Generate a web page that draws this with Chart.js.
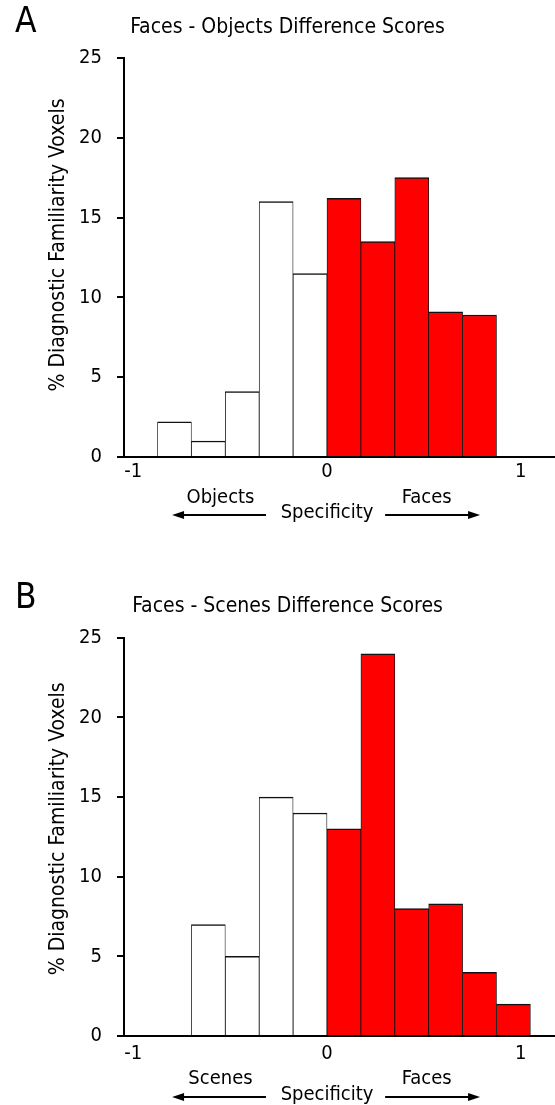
<!DOCTYPE html>
<html>
<head>
<meta charset="utf-8">
<script src="https://cdn.jsdelivr.net/npm/chart.js@4.4.1/dist/chart.umd.min.js"></script>
<style>
  body { margin: 0; background: #fff; }
  .panel { position: relative; width: 555px; }
</style>
</head>
<body>
<div class="panel" style="height:545px"><canvas id="chartA"></canvas></div>
<div class="panel" style="height:560px"><canvas id="chartB"></canvas></div>
<script>
// bin centres (specificity) and % of voxels per bin
var binsA = [-0.7875, -0.6125, -0.4375, -0.2625, -0.0875, 0.0875, 0.2625, 0.4375, 0.6125, 0.7875];
var pctA = [2.2, 1.0, 4.1, 16.0, 11.5, 16.2, 13.5, 17.5, 9.1, 8.9];
var binsB = [-0.6125, -0.4375, -0.2625, -0.0875, 0.0875, 0.2625, 0.4375, 0.6125, 0.7875, 0.9625];
var pctB = [7, 5, 15, 14, 13, 24, 8, 8.3, 4, 2];
var xTicks = [-1, 0, 1];
var yTicks = [0, 5, 10, 15, 20, 25];

var FONT = "'DejaVu Sans Condensed', 'DejaVu Sans', sans-serif";
Chart.defaults.font.family = FONT;
Chart.defaults.color = '#000';

// panel letter, rotated y label, and the Objects/Faces arrows under the x axis
var panelText = {
  id: 'panelText',
  afterDraw: function(chart, args, o) {
    var ctx = chart.ctx, x = chart.scales.x, area = chart.chartArea;
    ctx.save();
    ctx.fillStyle = '#000';
    ctx.strokeStyle = '#000';

    ctx.font = '35px ' + FONT;
    ctx.textAlign = 'left';
    ctx.textBaseline = 'alphabetic';
    ctx.fillText(o.letter, 15, o.letterY);

    ctx.font = '21px ' + FONT;
    ctx.textAlign = 'center';
    ctx.textBaseline = 'middle';
    ctx.save();
    ctx.translate(59, area.top + o.yTitleOffset);
    ctx.rotate(-Math.PI / 2);
    ctx.fillText('% Diagnostic Familiarity Voxels', 0, 0);
    ctx.restore();

    var base = area.bottom;
    ctx.font = '20px ' + FONT;
    ctx.fillText(o.leftLabel, x.getPixelForValue(-0.55), base + o.labelDy);
    ctx.fillText('Faces', x.getPixelForValue(0.515), base + o.labelDy);
    ctx.fillText('Specificity', x.getPixelForValue(0), base + o.specDy);

    var ay = base + o.arrowDy;
    function arrow(from, to) {
      var x1 = x.getPixelForValue(from), x2 = x.getPixelForValue(to);
      var dir = x2 > x1 ? 1 : -1;
      ctx.lineWidth = 2;
      ctx.beginPath();
      ctx.moveTo(x1, ay);
      ctx.lineTo(x2 - dir * 10, ay);
      ctx.stroke();
      ctx.beginPath();
      ctx.moveTo(x2, ay);
      ctx.lineTo(x2 - dir * 12, ay - 4);
      ctx.lineTo(x2 - dir * 12, ay + 4);
      ctx.closePath();
      ctx.fill();
    }
    arrow(-0.315, -0.80);
    arrow(0.30, 0.79);
    ctx.restore();
  }
};

function makePanel(id, bins, values, cfg) {
  return new Chart(document.getElementById(id), {
    type: 'bar',
    data: {
      datasets: [{
        data: bins.map(function(b, i) { return { x: b, y: values[i] }; }),
        backgroundColor: function(c) { return c.raw && c.raw.x > 0 ? '#ff0000' : '#ffffff'; },
        borderColor: '#111',
        borderWidth: { top: 1.5, left: 0.8, right: 0.8, bottom: 0 },
        borderSkipped: 'start',
        barPercentage: 1,
        categoryPercentage: 1
      }]
    },
    options: {
      responsive: true,
      maintainAspectRatio: false,
      animation: false,
      layout: { padding: { left: 20, right: 0, top: 0, bottom: 0 } },
      plugins: {
        legend: { display: false },
        tooltip: { enabled: false },
        title: {
          display: true,
          text: cfg.title,
          color: '#000',
          font: { size: 21, weight: 'normal' },
          padding: { top: cfg.titleTop, bottom: cfg.titleBottom }
        },
        panelText: cfg.text
      },
      scales: {
        x: {
          type: 'linear',
          offset: false,
          min: -1.048,
          max: 1.177,
          afterBuildTicks: function(s) { s.ticks = xTicks.map(function(v) { return { value: v }; }); },
          afterFit: function(s) { s.height = cfg.xHeight; },
          grid: { display: false, drawTicks: false, offset: false },
          border: { display: true, color: '#000', width: 2 },
          ticks: { padding: cfg.xPad, font: { size: 20 }, maxRotation: 0 }
        },
        y: {
          min: 0,
          max: 25,
          afterBuildTicks: function(s) { s.ticks = yTicks.map(function(v) { return { value: v }; }); },
          afterFit: function(s) { s.width = 104; },
          grid: { drawOnChartArea: false, drawTicks: true, tickLength: 7, color: '#000', lineWidth: 2 },
          border: { display: true, color: '#000', width: 2 },
          ticks: { padding: 15, font: { size: 20 } }
        }
      }
    },
    plugins: [panelText]
  });
}

makePanel('chartA', binsA, pctA, {
  title: 'Faces - Objects Difference Scores',
  titleTop: 15.4, titleBottom: 17.4, xHeight: 88, xPad: 3,
  text: { letter: 'A', letterY: 32, yTitleOffset: 187, leftLabel: 'Objects', labelDy: 41, specDy: 56, arrowDy: 58 }
});

makePanel('chartB', binsB, pctB, {
  title: 'Faces - Scenes Difference Scores',
  titleTop: 49.4, titleBottom: 18.2, xHeight: 69, xPad: 6,
  text: { letter: 'B', letterY: 63, yTitleOffset: 191, leftLabel: 'Scenes', labelDy: 43, specDy: 59, arrowDy: 61 }
});
</script>
</body>
</html>
